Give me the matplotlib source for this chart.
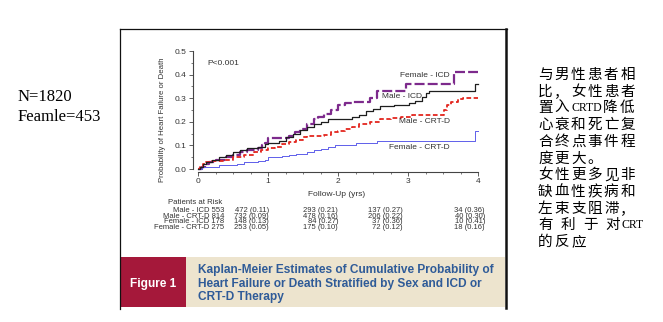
import matplotlib
matplotlib.use("Agg")
import matplotlib.pyplot as plt
from matplotlib.ticker import MultipleLocator, FormatStrFormatter
from matplotlib.lines import Line2D
from matplotlib.patches import Rectangle

plt.rcParams['font.family'] = ['Liberation Sans', 'DejaVu Sans']

W, H = 663, 322

# Kaplan-Meier step curves: event times (years) and cumulative probability
fem_icd_t = [0, 0.05, 0.10, 0.15, 0.25, 0.40, 0.50, 0.60, 0.70, 0.85, 0.92, 0.96, 1.00,
             1.30, 1.38, 1.45, 1.55, 1.65, 1.72, 1.80, 1.90, 2.00, 2.10, 2.20, 2.45,
             2.55, 2.97, 3.65, 4.00]
fem_icd_p = [0, 0.01, 0.02, 0.03, 0.04, 0.05, 0.06, 0.07, 0.08, 0.09, 0.10, 0.11, 0.13,
             0.14, 0.155, 0.17, 0.19, 0.21, 0.22, 0.235, 0.25, 0.27, 0.28, 0.285, 0.30,
             0.33, 0.36, 0.41, 0.41]

male_icd_t = [0, 0.03, 0.07, 0.12, 0.20, 0.30, 0.40, 0.50, 0.60, 0.70, 0.85, 0.95, 1.00,
              1.15, 1.25, 1.35, 1.45, 1.55, 1.65, 1.75, 1.85, 2.20, 2.30, 2.40, 2.50,
              2.60, 2.80, 3.02, 3.10, 3.20, 3.25, 3.30, 3.96, 4.00]
male_icd_p = [0, 0.01, 0.02, 0.03, 0.04, 0.05, 0.06, 0.07, 0.08, 0.09, 0.095, 0.105, 0.11,
              0.12, 0.135, 0.15, 0.165, 0.18, 0.19, 0.20, 0.21, 0.22, 0.23, 0.245, 0.255,
              0.265, 0.27, 0.28, 0.29, 0.305, 0.32, 0.33, 0.36, 0.36]

male_crtd_t = [0, 0.03, 0.07, 0.12, 0.20, 0.35, 0.50, 0.65, 0.80, 0.90, 1.00, 1.10, 1.20,
               1.30, 1.40, 1.50, 1.55, 1.80, 1.90, 2.00, 2.10, 2.20, 2.30, 2.45, 2.60,
               2.75, 2.90, 3.05, 3.52, 3.56, 3.62, 3.72, 3.78, 4.00]
male_crtd_p = [0, 0.01, 0.02, 0.03, 0.035, 0.04, 0.05, 0.06, 0.07, 0.08, 0.09, 0.095, 0.105,
               0.115, 0.125, 0.135, 0.14, 0.145, 0.155, 0.16, 0.17, 0.18, 0.19, 0.20, 0.21,
               0.215, 0.22, 0.23, 0.25, 0.27, 0.285, 0.295, 0.30, 0.30]

fem_crtd_t = [0, 0.05, 0.30, 0.55, 0.65, 0.85, 0.95, 1.00, 1.20, 1.30, 1.40, 1.55, 1.65,
              1.75, 1.85, 1.95, 2.25, 2.55, 3.96, 4.00]
fem_crtd_p = [0, 0.01, 0.015, 0.02, 0.03, 0.035, 0.04, 0.05, 0.055, 0.06, 0.065, 0.07, 0.08,
              0.085, 0.095, 0.10, 0.11, 0.12, 0.16, 0.16]

# Patients at risk table
risk_groups = ["Male - ICD 553", "Male - CRT-D 814", "Female - ICD 178", "Female - CRT-D 275"]
risk_counts = [[472, 293, 137, 34],
               [732, 478, 206, 40],
               [148, 84, 37, 10],
               [253, 175, 72, 18]]
risk_probs = [[0.11, 0.21, 0.27, 0.36],
              [0.09, 0.16, 0.22, 0.30],
              [0.13, 0.27, 0.36, 0.41],
              [0.05, 0.10, 0.12, 0.16]]

x_ticks = [0, 1, 2, 3, 4]

side_left = ["N=1820", "Feamle=453"]
side_right = ["与男性患者相", "比，女性患者", "置入CRTD降低", "心衰和死亡复",
              "合终点事件程", "度更大。", "女性更多见非", "缺血性疾病和",
              "左束支阻滞，", "有 利 于 对CRT", "的反应"]

caption = ["Kaplan-Meier Estimates of Cumulative Probability of",
           "Heart Failure or Death Stratified by Sex and ICD or",
           "CRT-D Therapy"]


def fx(x):
    return x / W


def fy(y):
    return 1 - y / H


fig = plt.figure(figsize=(W / 100, H / 100), dpi=100)
fig.patch.set_facecolor('white')

# Frame around the figure panel
fig.add_artist(Line2D([fx(120), fx(507)], [fy(29), fy(29)], color='#111', lw=0.9))
fig.add_artist(Line2D([fx(120), fx(120)], [fy(29), fy(309)], color='#111', lw=0.9))
fig.add_artist(Line2D([fx(506.5), fx(506.5)], [fy(29), fy(308)], color='#111', lw=1.8))

# Caption band
fig.add_artist(Rectangle((fx(120.5), fy(307)), fx(186) - fx(120.5), fy(257) - fy(307),
                         transform=fig.transFigure, facecolor='#A5183A', edgecolor='none'))
fig.add_artist(Rectangle((fx(186), fy(307)), fx(505.5) - fx(186), fy(257) - fy(307),
                         transform=fig.transFigure, facecolor='#EDE4CE', edgecolor='none'))
fig.text(fx(153), fy(284), "Figure 1", color='white', fontsize=8.6, fontweight='bold',
         ha='center', va='center')
for i, line in enumerate(caption):
    fig.text(fx(198), fy(270 + 13.5 * i), line, color='#2F5B98', fontsize=8.6,
             fontweight='bold', ha='left', va='center')

# Main Kaplan-Meier axes
ax = fig.add_axes([fx(198), fy(169), (478 - 198) / W, (169 - 51) / H])
ax.set_facecolor('none')
ax.set_xlim(0, 4)
ax.set_ylim(0, 0.5)

ax.step(fem_icd_t, fem_icd_p, where='post', color='#7D2A8C', lw=1.6,
        dashes=(4.5, 1.4), clip_on=False, zorder=3)
ax.step(male_icd_t, male_icd_p, where='post', color='#1E1E1E', lw=0.9,
        clip_on=False, zorder=4)
ax.step(male_crtd_t, male_crtd_p, where='post', color='#E3261F', lw=1.3,
        dashes=(2.6, 1.4), clip_on=False, zorder=3)
ax.step(fem_crtd_t, fem_crtd_p, where='post', color='#5E5EEA', lw=0.7,
        clip_on=False, zorder=3)

lab_kw = dict(fontsize=6, color='#333', ha='right', va='center')
ax.text(3.6, 0.398, "Female - ICD", **lab_kw)
ax.text(3.2, 0.309, "Male - ICD", **lab_kw)
ax.text(3.6, 0.200, "Male - CRT-D", **lab_kw)
ax.text(3.6, 0.089, "Female - CRT-D", **lab_kw)
ax.text(0.13, 0.449, "P<0.001", fontsize=6, color='#333', ha='left', va='center')

for s in ('top', 'right'):
    ax.spines[s].set_visible(False)
ax.spines['left'].set_position(('outward', 3.6))
ax.spines['bottom'].set_position(('outward', 2.2))
for s in ('left', 'bottom'):
    ax.spines[s].set_color('#444')
    ax.spines[s].set_linewidth(0.8)

ax.set_xticks(x_ticks)
ax.xaxis.set_minor_locator(MultipleLocator(0.25))
ax.yaxis.set_major_locator(MultipleLocator(0.1))
ax.yaxis.set_minor_locator(MultipleLocator(0.05))
ax.yaxis.set_major_formatter(FormatStrFormatter('%.1f'))
ax.tick_params(which='major', direction='out', length=3, width=0.6, labelsize=6,
               pad=1.5, colors='#444', labelcolor='#333')
ax.tick_params(which='minor', direction='out', length=1.6, width=0.5, colors='#444')

fig.text(fx(337), fy(194), "Follow-Up (yrs)", fontsize=6, color='#333',
         ha='center', va='center')
fig.text(fx(163), fy(120), "Probability of Heart Failure or Death", fontsize=5.6,
         color='#333', rotation=90, ha='center', va='center')

# Patients-at-risk table
fig.text(fx(195), fy(202.5), "Patients at Risk", fontsize=5.6, color='#333',
         ha='center', va='center')
row_y = [210.2, 216.0, 221.8, 227.6]
col_right = [269, 338, 403, 485]
for r, name in enumerate(risk_groups):
    fig.text(fx(224), fy(row_y[r]), name, fontsize=5.5, color='#333', ha='right',
             va='center')
    for c in range(4):
        fig.text(fx(col_right[c]), fy(row_y[r]),
                 f"{risk_counts[r][c]} ({risk_probs[r][c]:.2f})",
                 fontsize=5.5, color='#333', ha='right', va='center')

# Left-hand notes
for i, line in enumerate(side_left):
    fig.text(fx(18), fy(97 + 20 * i), line, family='Liberation Serif', fontsize=12,
             color='black', ha='left', va='center')

# Right-hand Chinese notes, laid out glyph by glyph
renderer = fig.canvas.get_renderer()
adv = 16.5
for i, line in enumerate(side_right):
    y = 75 + 16.7 * i
    x = 538
    k = 0
    while k < len(line):
        ch = line[k]
        if ch == ' ':
            x += 6
            k += 1
            continue
        if ord(ch) < 128:
            j = k
            while j < len(line) and ord(line[j]) < 128 and line[j] != ' ':
                j += 1
            t = fig.text(fx(x), fy(y), line[k:j], family='Liberation Serif', fontsize=8.5,
                         color='black', ha='left', va='center')
            x += t.get_window_extent(renderer).width + 1
            k = j
        else:
            fig.text(fx(x), fy(y), ch, family=['Noto Sans CJK SC', 'DejaVu Sans'],
                     fontsize=10.5, color='black', ha='left', va='center')
            x += adv
            k += 1

fig.savefig("out.png", dpi=100, facecolor='white')
